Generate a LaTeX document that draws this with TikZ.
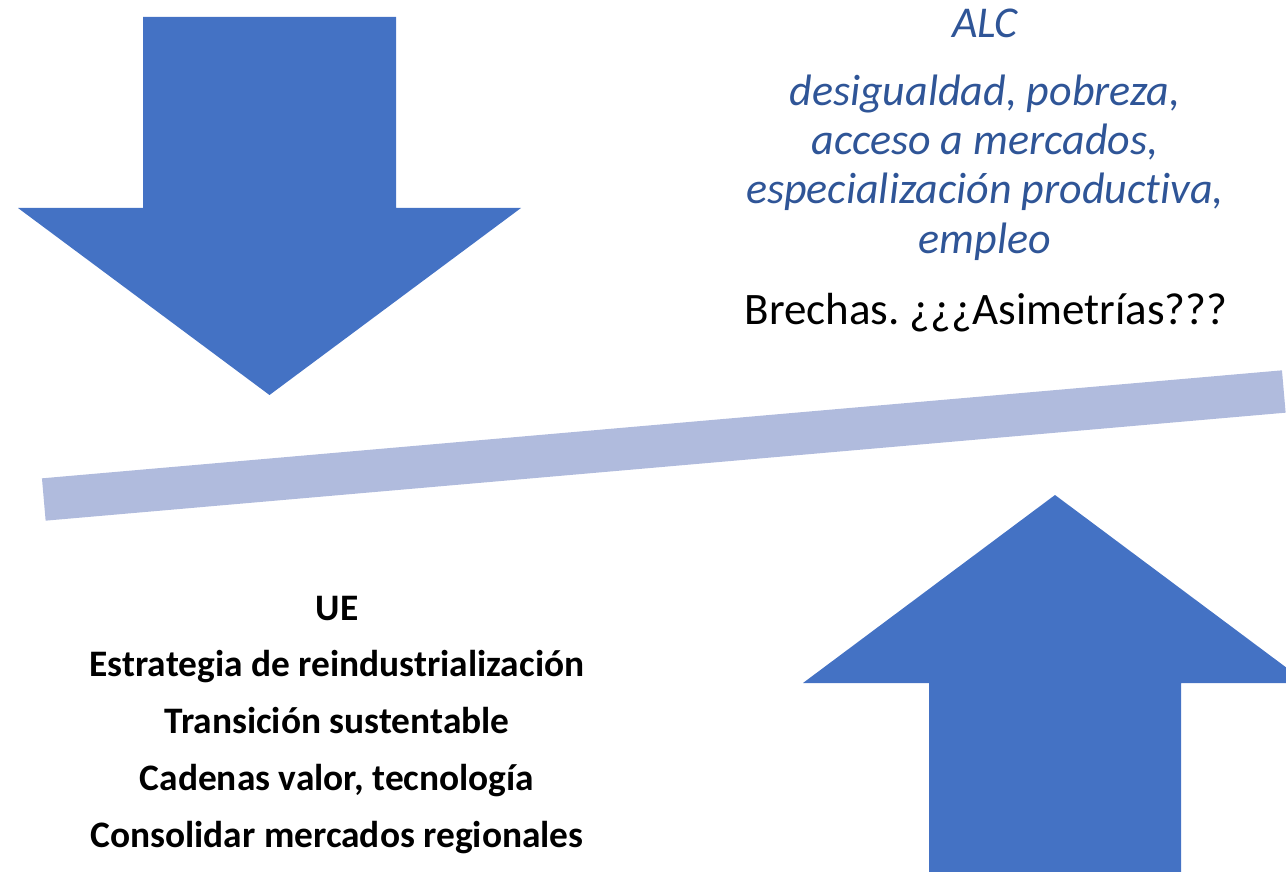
\documentclass[tikz,border=0pt]{standalone}
\usepackage{fontspec}
\setmainfont{Carlito}[Ligatures=NoCommon]
\definecolor{arrowblue}{RGB}{68,114,196}
\definecolor{barblue}{RGB}{176,187,221}
\definecolor{textblue}{RGB}{47,85,151}
\frenchspacing
\begin{document}
\begin{tikzpicture}[x=1pt,y=-1pt,
  bigarrow/.style={fill=arrowblue,draw=none},
  alctext/.style={anchor=base,inner sep=0pt,text=textblue,font=\fontsize{44}{50}\selectfont\itshape},
  gaptext/.style={anchor=base,inner sep=0pt,text=black,font=\fontsize{45}{52}\selectfont},
  uetext/.style={anchor=base,inner sep=0pt,text=black,font=\fontsize{37.4}{44}\selectfont\bfseries}]
\useasboundingbox (0,0) rectangle (1286,872);
\clip (0,0) rectangle (1286,872);
% down arrow
\fill[bigarrow] (143,17) -- (396,17) -- (396,208) -- (521,208) -- (269.5,395)
  -- (18,208) -- (143,208) -- cycle;
% up arrow
\fill[bigarrow] (929,900) -- (929,683) -- (803,683) -- (1055,495) -- (1307,683)
  -- (1181,683) -- (1181,900) -- cycle;
% tilted bar
\coordinate (barL) at (43.8,499.5);
\coordinate (barR) at (1283.8,391.5);
\draw[barblue,line width=42.5pt,line cap=butt] (barL) -- (barR);
% ALC text
\node[alctext] (alc) at (985,38) {ALC};
\node[alctext] (l1) at (985,106) {desigualdad, pobreza,};
\node[alctext] (l2) at (985,155) {acceso a mercados,};
\node[alctext] (l3) at (985,204) {especialización productiva,};
\node[alctext] (l4) at (985,253) {empleo};
\node[gaptext] (gap) at (986,324) {Brechas. ¿¿¿Asimetrías???};
% UE text
\node[uetext] (ue) at (337,620) {UE};
\node[uetext] (u1) at (337,676) {Estrategia de reindustrialización};
\node[uetext] (u2) at (337,733) {Transición sustentable};
\node[uetext] (u3) at (337,790) {Cadenas valor, tecnología};
\node[uetext] (u4) at (337,847) {Consolidar mercados regionales};
\end{tikzpicture}
\end{document}
